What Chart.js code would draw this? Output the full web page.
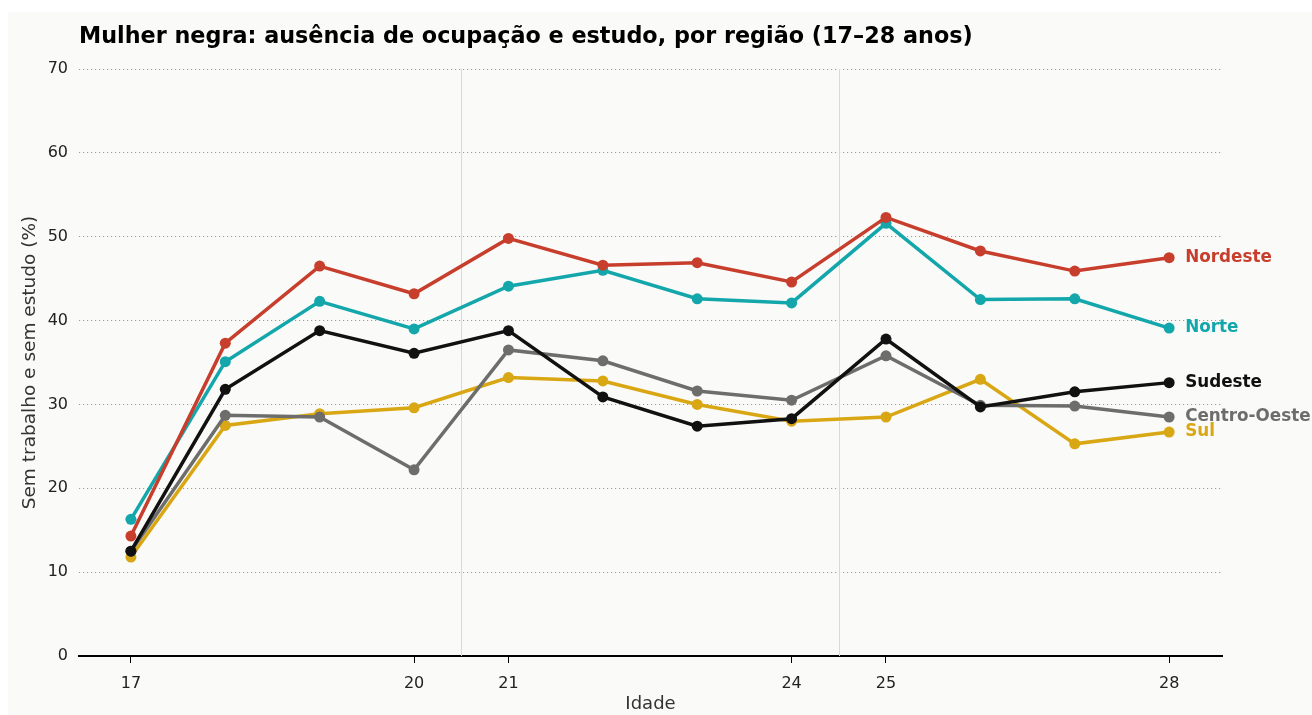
<!DOCTYPE html>
<html>
<head>
<meta charset="utf-8">
<script src="https://cdn.jsdelivr.net/npm/chart.js@4"></script>
<style>
  html, body { margin: 0; padding: 0; background: #ffffff; }
  #panel { position: absolute; left: 8px; top: 12px; width: 1304px; height: 703px; background: #fafaf8; }
  #wrap { position: absolute; left: 0; top: 0; width: 1312px; height: 715px; }
</style>
</head>
<body>
<div id="panel"></div>
<div id="wrap"><canvas id="chart" width="1312" height="715"></canvas></div>
<script>
const ages = [17, 18, 19, 20, 21, 22, 23, 24, 25, 26, 27, 28];
const tickAges = [17, 20, 21, 24, 25, 28];
const dividers = [20.5, 24.5];

const nordeste = [14.3, 37.3, 46.5, 43.2, 49.8, 46.6, 46.9, 44.6, 52.3, 48.3, 45.9, 47.5];
const norte = [16.3, 35.1, 42.3, 39.0, 44.1, 46.0, 42.6, 42.1, 51.6, 42.5, 42.6, 39.1];
const sudeste = [12.5, 31.8, 38.8, 36.1, 38.8, 30.9, 27.4, 28.3, 37.8, 29.7, 31.5, 32.6];
const centroOeste = [12.5, 28.7, 28.5, 22.2, 36.5, 35.2, 31.6, 30.5, 35.8, 29.9, 29.8, 28.5];
const sul = [11.8, 27.5, 28.9, 29.6, 33.2, 32.8, 30.0, 28.0, 28.5, 33.0, 25.3, 26.7];

const series = [
    { name: 'Nordeste', values: nordeste, color: '#c73e2d' },
    { name: 'Norte', values: norte, color: '#13a7ab' },
    { name: 'Sudeste', values: sudeste, color: '#111111' },
    { name: 'Centro-Oeste', values: centroOeste, color: '#6d6d6b' },
    { name: 'Sul', values: sul, color: '#d9a714' }
];

const FONT = "'DejaVu Sans', sans-serif";

// vertical separators, title, y title and end labels
const extras = {
    id: 'extras',
    beforeDatasetsDraw(chart) {
        const { ctx, chartArea, scales } = chart;
        ctx.save();
        ctx.strokeStyle = '#d9d9d6';
        ctx.lineWidth = 1;
        dividers.forEach(d => {
            const x = Math.round(scales.x.getPixelForValue(d)) + 0.5;
            ctx.beginPath();
            ctx.moveTo(x, chartArea.top);
            ctx.lineTo(x, chartArea.bottom);
            ctx.stroke();
        });
        ctx.restore();
    },
    afterDraw(chart) {
        const { ctx, scales, chartArea } = chart;
        ctx.save();
        ctx.fillStyle = '#000';
        ctx.font = 'bold 22.3px ' + FONT;
        ctx.textBaseline = 'middle';
        ctx.textAlign = 'left';
        ctx.fillText('Mulher negra: ausência de ocupação e estudo, por região (17–28 anos)', 79, 37);

        // y axis title
        ctx.save();
        ctx.translate(30, (chartArea.top + chartArea.bottom) / 2);
        ctx.rotate(-Math.PI / 2);
        ctx.textAlign = 'center';
        ctx.fillStyle = '#333';
        ctx.font = '18.5px ' + FONT;
        ctx.fillText('Sem trabalho e sem estudo (%)', 0, 0);
        ctx.restore();

        ctx.font = 'bold 16.8px ' + FONT;
        series.forEach(s => {
            const last = s.values.length - 1;
            const x = scales.x.getPixelForValue(ages[last]) + 16;
            const y = scales.y.getPixelForValue(s.values[last]);
            ctx.fillStyle = s.color;
            ctx.fillText(s.name, x, y);
        });
        ctx.restore();
    }
};

new Chart(document.getElementById('chart'), {
    type: 'line',
    data: {
        datasets: series.map(s => ({
            label: s.name,
            data: ages.map((a, i) => ({ x: a, y: s.values[i] })),
            borderColor: s.color,
            backgroundColor: s.color,
            borderWidth: 3.5,
            pointRadius: 5.5,
            pointHoverRadius: 5.5,
            pointBorderWidth: 0,
            tension: 0
        }))
    },
    options: {
        responsive: false,
        animation: false,
        layout: { padding: { left: 0, right: 90, top: 69, bottom: 0 } },
        plugins: {
            legend: { display: false },
            tooltip: { enabled: false }
        },
        scales: {
            x: {
                type: 'linear',
                min: 16.45,
                max: 28.56,
                afterBuildTicks: axis => { axis.ticks = tickAges.map(v => ({ value: v })); },
                afterFit: axis => { axis.height = 59; },
                grid: { drawOnChartArea: false, color: '#000', tickLength: 7, lineWidth: 1 },
                border: { color: '#000', width: 2 },
                ticks: { color: '#222', font: { family: FONT, size: 16 }, padding: 11, autoSkip: false, maxRotation: 0 },
                title: { display: true, text: 'Idade', color: '#333', font: { family: FONT, size: 18 }, padding: { top: 9, bottom: 0 } }
            },
            y: {
                min: 0,
                max: 70,
                afterFit: axis => { axis.width = 79; },
                ticks: { stepSize: 10, color: '#222', font: { family: FONT, size: 16 }, padding: 11 },
                grid: {
                    drawTicks: false,
                    color: ctx => ctx.tick.value === 0 ? 'rgba(0,0,0,0)' : '#9a9a98',
                    lineWidth: 1
                },
                border: { display: false, dash: [1.2, 2.8] }
            }
        }
    },
    plugins: [extras]
});
</script>
</body>
</html>
